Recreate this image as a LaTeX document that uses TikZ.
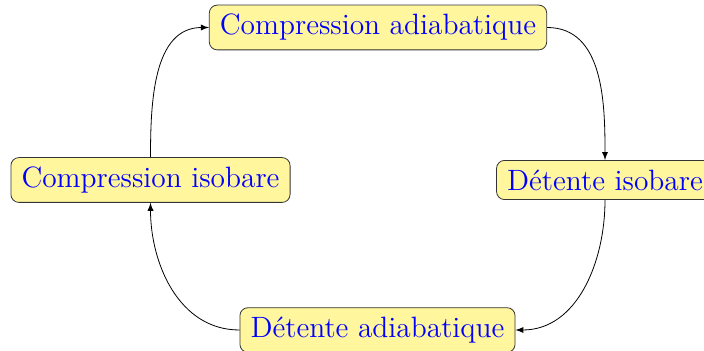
\documentclass[tikz,border=0pt]{standalone}
\usetikzlibrary{arrows}
\definecolor{stagefill}{RGB}{255,246,158}
\begin{document}
\begin{tikzpicture}[x=0.5pt,y=-0.5pt,
  stage/.style={draw=black!80,fill=stagefill,rounded corners=4pt,text=blue,font=\fontsize{14.7}{17}\selectfont,inner xsep=5.3pt,inner ysep=4.6pt},
  link/.style={-latex,draw=black}]
\useasboundingbox (0,0) rectangle (704,351);
\node[stage] (ca) at (378,27.5) {Compression adiabatique};
\node[stage] (di) at (605,180) {Détente isobare};
\node[stage] (da) at (377.5,330) {Détente adiabatique};
\node[stage] (ci) at (150.5,180) {Compression isobare};
\draw[link] (ca.east) to[out=0,in=90] (di.north);
\draw[link] (di.south) to[out=-90,in=0] (da.east);
\draw[link] (da.west) to[out=180,in=-90] (ci.south);
\draw[link] (ci.north) to[out=90,in=180] (ca.west);
\end{tikzpicture}
\end{document}
